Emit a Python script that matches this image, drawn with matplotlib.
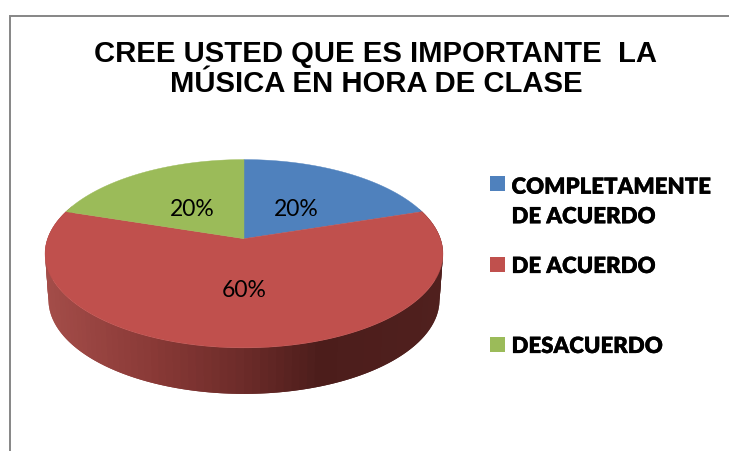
import matplotlib
matplotlib.use("Agg")
import matplotlib.pyplot as plt
import matplotlib.patheffects as pe
import numpy as np

TITLE = "CREE USTED QUE ES IMPORTANTE  LA\nMÚSICA EN HORA DE CLASE"
categories = ["COMPLETAMENTE\nDE ACUERDO", "DE ACUERDO", "DESACUERDO"]
values = [20, 60, 20]
colors = ["#4F81BD", "#C0504D", "#9BBB59"]

# perspective of the disc, fitted on the picture (pixels)
cx = 244
apex_y = 239.7
k = 196.4
b = -53.5
c = 0.1596
depth = 46
k_low = 193


def project(theta, rho=1.0, k_=k, dy=0):
    # theta clockwise from 12 o'clock
    u = rho * np.sin(theta)
    v = rho * np.cos(theta)
    d = 1 + c * v
    return cx + k_ * u / d, (apex_y + b * v) / d + dy


def side_color(x):
    stops_x = [45, 150, 244, 320, 443]
    stops = np.array([[0xA4, 0x4D, 0x49], [0x8A, 0x3A, 0x37], [0x6C, 0x2B, 0x29], [0x4C, 0x1D, 0x1B], [0x50, 0x20, 0x1E]]) / 255
    return [np.interp(x, stops_x, stops[:, i]) for i in range(3)]


fig = plt.figure(figsize=(7.29, 4.52), dpi=100)
ax = fig.add_axes([0, 0, 1, 1])
ax.set_xlim(0, 729)
ax.set_ylim(452, 0)
ax.axis("off")

# chart frame
ax.plot([10, 10, 729], [452, 17, 17], color="#868686", lw=1.4, solid_joinstyle="miter")

# side wall, strips overlap so no seams show
edges = np.radians(np.linspace(70, 290, 111))
step = edges[1] - edges[0]
for t0 in edges[:-1]:
    t = np.linspace(t0, t0 + 2 * step, 5)
    xt, yt = project(t)
    xb, yb = project(t, k_=k_low, dy=depth)
    col = side_color(xt[:3].mean())
    ax.fill(np.r_[xt, xb[::-1]], np.r_[yt, yb[::-1]], color=col, lw=0)

# top face
bounds = np.cumsum([0] + values) / sum(values) * 2 * np.pi
for start, end, col, val in zip(bounds[:-1], bounds[1:], colors, values):
    t = np.linspace(start, end, 120)
    x, y = project(t)
    ax.fill(np.r_[cx, x], np.r_[apex_y, y], color=col, lw=0.3)
    lx, ly = project((start + end) / 2, rho=0.48)
    ax.text(lx, ly + 3, f"{val}%", ha="center", va="center", family="Lato", fontsize=16.5, color="black")

ax.text(376, 69, TITLE, ha="center", va="center", family="Liberation Sans", weight="bold",
        fontsize=21.1, linespacing=1.12, color="black")

# legend
legend_y = [184.5, 265.5, 345.5]
text_y = [203, 267.5, 347.5]
for cat, col, sy, ty in zip(categories, colors, legend_y, text_y):
    ax.fill([490, 505, 505, 490], [sy - 7.5, sy - 7.5, sy + 7.5, sy + 7.5], color=col, lw=0)
    label = ax.text(511.5, ty, cat, ha="left", va="center", family="Lato", weight="heavy",
                    fontsize=16, linespacing=1.5, color="black")
    label.set_path_effects([pe.withStroke(linewidth=0.2, foreground="black")])

fig.savefig("out.png", dpi=100)
